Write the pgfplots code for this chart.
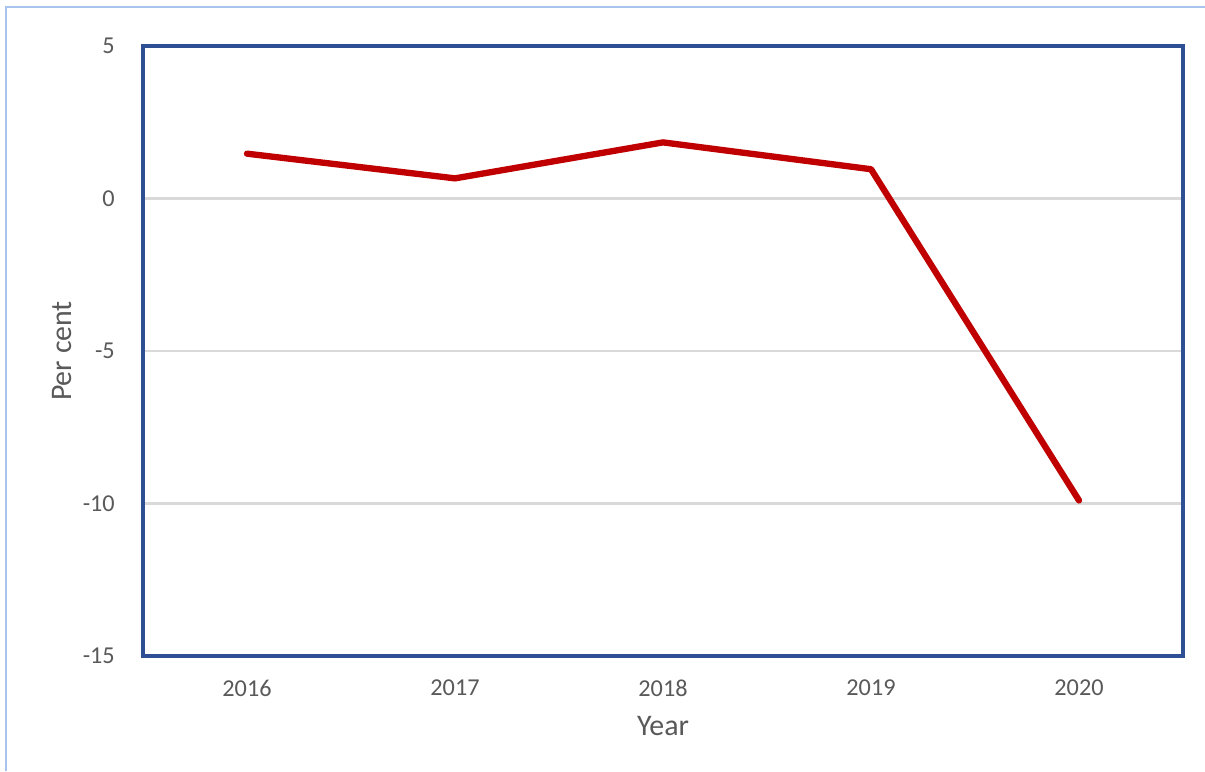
\documentclass[border=0pt]{standalone}
\usepackage{fontspec}
\setmainfont{Carlito}
\usepackage{pgfplots}
\pgfplotsset{compat=1.18}
\definecolor{frameblue}{HTML}{2F4F94}
\definecolor{linered}{HTML}{C00000}
\definecolor{gridgray}{HTML}{D9D9D9}
\definecolor{txtgray}{HTML}{595959}
\definecolor{edgeblue}{HTML}{A8C4EE}
\begin{document}
\begin{tikzpicture}
\path[use as bounding box] (-1.43,-1.15) rectangle (10.62,6.56);
\draw[edgeblue, line width=0.6pt] (-1.37,-1.15) -- (-1.37,6.49) -- (10.62,6.49);
\begin{axis}[
  at={(0,0)}, anchor=south west,
  scale only axis, width=10.4cm, height=6.1cm,
  xmin=-0.5, xmax=4.5, ymin=-15, ymax=5,
  xtick={0,1,2,3,4},
  xticklabels={2016,2017,2018,2019,2020},
  ytick={-15,-10,-5,0,5},
  major tick length=0pt,
  ymajorgrids,
  grid style={gridgray, line width=0.7pt},
  axis line style={frameblue, line width=0.9pt},
  /pgf/number format/assume math mode=true,
  ticklabel style={font=\fontsize{6.9}{8}\selectfont, text=txtgray},
  xticklabel style={yshift=-3.2pt},
  yticklabel style={xshift=-4.5pt},
  xlabel={Year}, ylabel={Per cent},
  label style={font=\fontsize{8.5}{10}\selectfont, text=txtgray},
  xlabel style={at={(axis description cs:0.5,0)}, anchor=center, yshift=-0.70cm},
  every axis y label/.append style={at={(-0.81cm,3.05cm)}, anchor=center},
]
\addplot[linered, line width=1.8pt, line join=round, line cap=round] coordinates {
  (0,1.47) (1,0.66) (2,1.84) (3,0.96) (4,-9.9)
};
\end{axis}
\end{tikzpicture}
\end{document}
